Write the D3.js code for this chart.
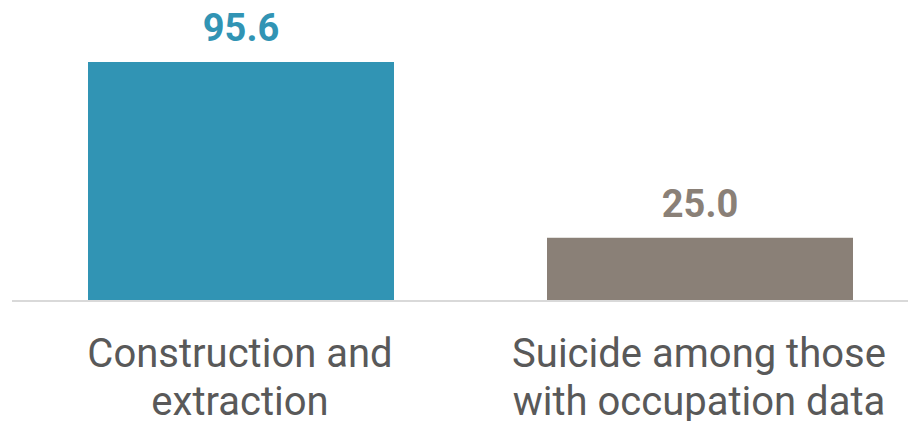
<!DOCTYPE html>
<html>
<head>
<meta charset="utf-8">
<script src="https://cdn.jsdelivr.net/npm/d3@7"></script>
<style>
  html, body { margin: 0; padding: 0; background: #fff; }
  svg { display: block; }
  .valLabel { font-family: Roboto, sans-serif; font-weight: 700; }
  .catLabel { font-family: Roboto, sans-serif; font-weight: 400; fill: #595959; }
</style>
</head>
<body>
<div id="container"></div>
<script>
const categories = ["Construction and extraction", "Suicide among those with occupation data"];
const catLines = [["Construction and", "extraction"], ["Suicide among those", "with occupation data"]];
const values = [95.6, 25.0];
const colors = ["#3194b4", "#8a8077"];

const width = 908, height = 421;
const baseY = 300;

const svg = d3.select("#container").append("svg")
    .attr("width", width)
    .attr("height", height);

var x = d3.scaleBand()
    .domain(categories)
    .range([11.5, 929.5])
    .paddingInner(1 / 3)
    .paddingOuter(1 / 6);

var y = d3.scaleLinear()
    .domain([0, 95.6])
    .range([baseY, 62]);

// bars
svg.selectAll("rect.bar")
    .data(values)
    .enter()
    .append("rect")
    .attr("class", "bar")
    .attr("x", (d, i) => x(categories[i]))
    .attr("width", x.bandwidth())
    .attr("y", d => y(d))
    .attr("height", d => baseY - y(d))
    .attr("fill", (d, i) => colors[i]);

// baseline
svg.append("line")
    .attr("x1", 12)
    .attr("x2", 908)
    .attr("y1", baseY + 1)
    .attr("y2", baseY + 1)
    .attr("stroke", "#d9d9d9")
    .attr("stroke-width", 2);

// value labels
svg.selectAll("text.valLabel")
    .data(values)
    .enter()
    .append("text")
    .attr("class", "valLabel")
    .attr("x", (d, i) => x(categories[i]) + x.bandwidth() / 2)
    .attr("y", d => y(d) - 21)
    .attr("text-anchor", "middle")
    .attr("font-size", 38)
    .attr("fill", (d, i) => colors[i])
    .text(d => d.toFixed(1));

// category labels (second line sits at the bottom edge, as in the original)
catLines.forEach(function(lines, i) {
    lines.forEach(function(t, j) {
        svg.append("text")
            .attr("class", "catLabel")
            .attr("x", x(categories[i]) + x.bandwidth() / 2 - 1)
            .attr("y", 367 + j * 48)
            .attr("text-anchor", "middle")
            .attr("font-size", 40)
            .text(t);
    });
});
</script>
</body>
</html>
